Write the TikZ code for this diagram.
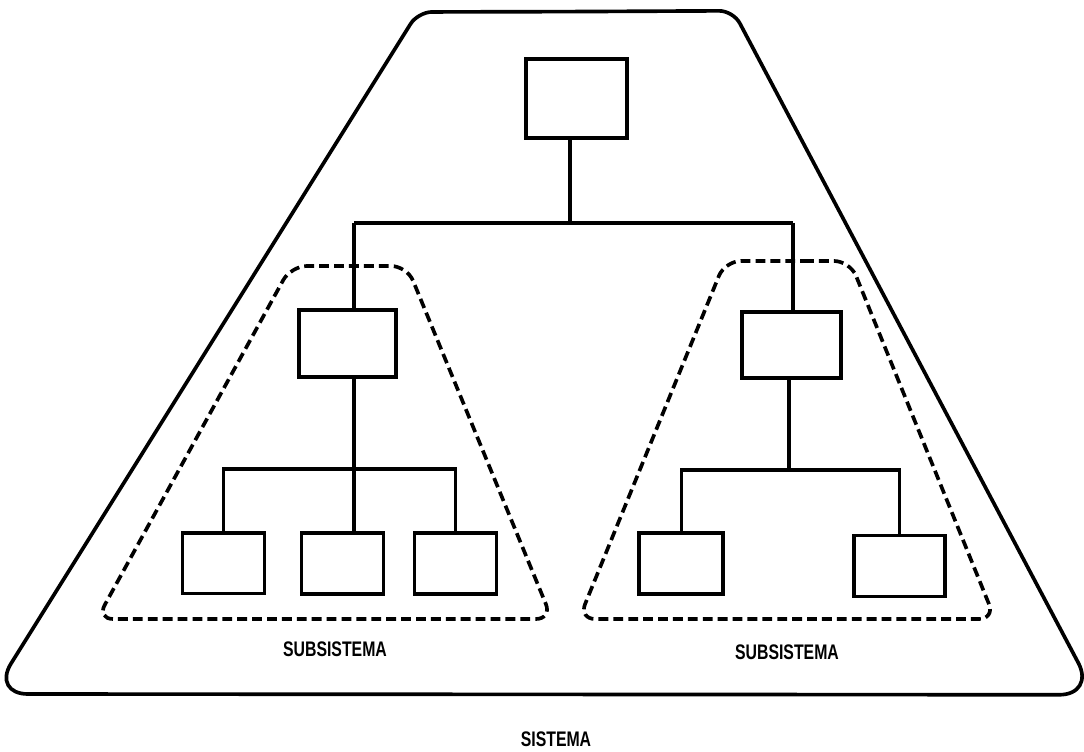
\documentclass[tikz,border=0pt]{standalone}
\usepackage{fontspec}
\newfontfamily\labelfont[FakeStretch=0.75]{Liberation Sans}
\begin{document}
\begin{tikzpicture}[
  every node/.style={draw, rectangle, line width=2.6pt, minimum width=2.05cm, minimum height=1.52cm, inner sep=0pt},
  label/.style={draw=none, minimum size=0pt, font=\labelfont\bfseries\fontsize{15}{17}\selectfont},
  wire/.style={line width=2.4pt},
  subsys/.style={line width=2.6pt, dash pattern=on 7pt off 3.6pt, rounded corners=0.4cm}
]
  \fill[white] (0,0) rectangle (27.1,18.8);
  \useasboundingbox (0,0) rectangle (27.1,18.8);

  % sistema
  \draw[line width=2.6pt] (14.4,18.51) [rounded corners=0.35cm] -- (18.33,18.53)
    [rounded corners=0.9cm] -- (27.38,1.43) -- (-0.2,1.45)
    [rounded corners=0.35cm] -- (10.45,18.5) -- cycle;

  % subsistemas
  \draw[subsys] (8.7,12.15) -- (10.175,12.15) -- (13.8,3.325) -- (2.425,3.325) -- (7.275,12.15) -- cycle;
  \draw[subsys] (19.7,12.275) -- (21.25,12.275) -- (24.875,3.325) -- (14.475,3.325) -- (18.125,12.275) -- cycle;

  \node[minimum width=2.52cm, minimum height=1.97cm] (top) at (14.41, 16.34) {};

  \node[minimum width=2.43cm, minimum height=1.67cm] (midL) at (8.69, 10.21) {};
  \node (b1) at (5.59, 4.72) {};
  \node (b2) at (8.56, 4.71) {};
  \node (b3) at (11.39, 4.71) {};

  \node[minimum width=2.47cm, minimum height=1.65cm] (midR) at (19.79, 10.18) {};
  \node[minimum width=2.1cm] (r1) at (17.03, 4.71) {};
  \node[minimum width=2.27cm] (r2) at (22.49, 4.65) {};

  \coordinate (j0) at (14.25, 13.225);
  \coordinate (busL) at (8.85, 13.225);
  \coordinate (busR) at (19.825, 13.225);
  \coordinate (jL) at (8.85, 7.075);
  \coordinate (jR) at (19.725, 7.05);

  \draw[wire] (top.south -| j0) -- (j0) (busL) -- (busR);
  \draw[wire] (busL) -- (busL |- midL.north) (busR) -- (busR |- midR.north);

  \draw[wire] (midL.south -| jL) -- (jL |- b2.north);
  \draw[wire] (b1.north) -- (b1.north |- jL) -- (b3.north |- jL) -- (b3.north);

  \draw[wire] (midR.south -| jR) -- (jR);
  \draw[wire] (r1.north) -- (r1.north |- jR) -- (r2.north |- jR) -- (r2.north);

  \node[label] at (8.375, 2.575) {SUBSISTEMA};
  \node[label] at (19.675, 2.5) {SUBSISTEMA};
  \node[label] at (13.9, 0.325) {SISTEMA};
\end{tikzpicture}
\end{document}
